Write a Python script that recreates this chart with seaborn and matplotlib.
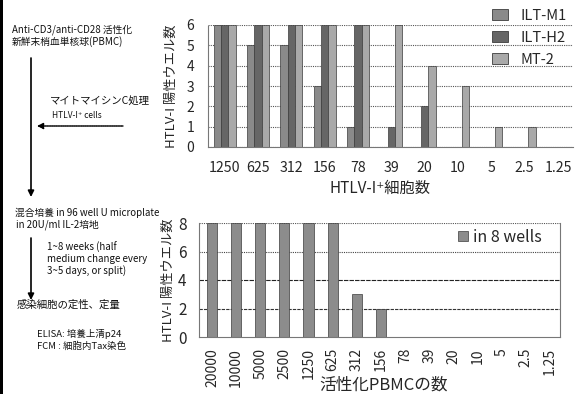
import matplotlib
matplotlib.use("Agg")
import matplotlib.pyplot as plt
from matplotlib.patches import Rectangle, Patch, FancyArrowPatch
import pandas as pd
import seaborn as sns

# ---- data ----
htlv_cells = ["1250", "625", "312", "156", "78", "39", "20", "10", "5", "2.5", "1.25"]
cell_lines = ["ILT-M1", "ILT-H2", "MT-2"]
ilt_m1 = [6, 5, 5, 3, 1, 0, 0, 0, 0, 0, 0]
ilt_h2 = [6, 6, 6, 6, 6, 1, 2, 0, 0, 0, 0]
mt_2 = [6, 6, 6, 6, 6, 6, 4, 3, 1, 1, 0]

pbmc_counts = ["20000", "10000", "5000", "2500", "1250", "625", "312", "156",
               "78", "39", "20", "10", "5", "2.5", "1.25"]
positive_wells = [8, 8, 8, 8, 8, 8, 3, 2, 0, 0, 0, 0, 0, 0, 0]

line_colors = ["#8a8a8a", "#666666", "#a9a9a9"]
pbmc_color = "#8c8c8c"

# ---- style ----
sns.set_theme(style="white")
plt.rcParams["font.family"] = ["Noto Sans CJK JP", "DejaVu Sans"]
plt.rcParams["axes.unicode_minus"] = False

W, H = 579, 394
fig = plt.figure(figsize=(W / 100, H / 100), dpi=100)


def fx(px):
    return px / W


def fy(py):
    return 1 - py / H


# ---- top panel: positive wells per HTLV-I+ cell number ----
df_top = pd.DataFrame({
    "cells": htlv_cells * 3,
    "line": [cell_lines[0]] * len(htlv_cells) + [cell_lines[1]] * len(htlv_cells)
            + [cell_lines[2]] * len(htlv_cells),
    "wells": ilt_m1 + ilt_h2 + mt_2,
})

ax1 = fig.add_axes([fx(208), fy(147), fx(573) - fx(208), fy(25) - fy(147)])
sns.barplot(data=df_top, x="cells", y="wells", hue="line", order=htlv_cells,
            hue_order=cell_lines, palette=line_colors, width=0.66, saturation=1,
            edgecolor="#3c3c3c", linewidth=0.5, ax=ax1)
ax1.legend_.remove()
ax1.set_xlim(-0.5, 10.45)
ax1.set_ylim(0, 6)
ax1.set_yticks(range(0, 7))
ax1.set_axisbelow(True)
ax1.yaxis.grid(True, linestyle=(0, (1, 1)), color="#555555", linewidth=0.8)
for s in ["top", "right"]:
    ax1.spines[s].set_visible(False)
for s in ["left", "bottom"]:
    ax1.spines[s].set_linestyle((0, (1, 1)))
    ax1.spines[s].set_color("#777777")
    ax1.spines[s].set_linewidth(0.8)
ax1.tick_params(axis="x", length=3, width=0.6, color="#777777", pad=7, labelsize=10.2)
ax1.tick_params(axis="y", length=0, pad=10, labelsize=10)
ax1.set_xlabel("HTLV-I⁺細胞数", fontsize=11)
ax1.xaxis.set_label_coords(0.47, -0.27)
ax1.set_ylabel("HTLV-I 陽性ウエル数", fontsize=9.5)
ax1.yaxis.set_label_coords(-0.082, 0.5)

handles = [Patch(facecolor=c, edgecolor="#3c3c3c", linewidth=0.6) for c in line_colors]
fig.legend(handles, cell_lines, loc="upper left", bbox_to_anchor=(fx(486), fy(3)),
           frameon=False, fontsize=10.5, handlelength=1.1, handleheight=0.8,
           labelspacing=0.55, handletextpad=0.9, borderaxespad=0)

# ---- bottom panel: positive wells per activated PBMC number ----
df_bot = pd.DataFrame({"pbmc": pbmc_counts, "wells": positive_wells})

ax2 = fig.add_axes([fx(199), fy(337), fx(560) - fx(199), fy(223) - fy(337)])
sns.barplot(data=df_bot, x="pbmc", y="wells", order=pbmc_counts, color=pbmc_color,
            width=0.42, saturation=1, edgecolor="#3c3c3c", linewidth=0.5, ax=ax2)
ax2.set_xlim(-0.54, 14.42)
ax2.set_ylim(0, 8)
ax2.set_yticks([0, 2, 4, 6, 8])
ax2.set_axisbelow(True)
for yv, ls, col in [(2, (0, (3, 1)), "#333333"), (4, (0, (4, 1)), "#222222"),
                    (6, (0, (1, 1)), "#444444"), (8, (0, (1, 1)), "#555555")]:
    ax2.axhline(yv, linestyle=ls, color=col, linewidth=0.8, zorder=0)
ax2.spines["top"].set_visible(False)
for s in ["left", "bottom", "right"]:
    ax2.spines[s].set_linestyle((0, (1, 1)))
    ax2.spines[s].set_color("#777777")
    ax2.spines[s].set_linewidth(0.8)
ax2.tick_params(axis="x", length=3, width=0.6, color="#777777", pad=5,
                labelsize=10, labelrotation=90)
ax2.tick_params(axis="y", length=0, pad=9, labelsize=11)
ax2.set_xlabel("活性化PBMCの数", fontsize=12)
ax2.xaxis.set_label_coords(0.51, -0.35)
ax2.set_ylabel("HTLV-I 陽性ウエル数", fontsize=9.5)
ax2.yaxis.set_label_coords(-0.068, 0.5)
ax2.legend([Patch(facecolor=pbmc_color, edgecolor="#3c3c3c", linewidth=0.5)],
           ["in 8 wells"], loc="center left", bbox_to_anchor=(fx(452), fy(237)),
           bbox_transform=fig.transFigure, frameon=False, fontsize=11.5,
           handlelength=0.6, handleheight=0.6, handletextpad=0.3, borderaxespad=0)

# ---- protocol outline on the left ----
fig.add_artist(Rectangle((0, 0), fx(3), 1, transform=fig.transFigure,
                         facecolor="black", edgecolor="none"))

texts = [
    (12, 30, "Anti-CD3/anti-CD28 活性化", 7),
    (12, 42, "新鮮末梢血単核球(PBMC)", 7),
    (50, 102, "マイトマイシンC処理", 7.5),
    (52, 115, "HTLV-I⁺ cells", 6),
    (15, 213, "混合培養 in 96 well U microplate", 7),
    (16, 225, "in 20U/ml IL-2培地", 7),
    (47, 247, "1~8 weeks (half", 7),
    (47, 259, "medium change every", 7),
    (47, 271, "3~5 days, or split)", 7),
    (17, 305, "感染細胞の定性、定量", 7.5),
    (37, 334, "ELISA: 培養上清p24", 6.8),
    (37, 346, "FCM : 細胞内Tax染色", 6.8),
]
for x, y, s, size in texts:
    fig.text(fx(x), fy(y), s, ha="left", va="center", fontsize=size, color="#111111")

arrow = dict(arrowstyle="-|>", color="black", lw=1.2, mutation_scale=9,
             shrinkA=0, shrinkB=0)
fig.add_artist(FancyArrowPatch((fx(31), fy(58)), (fx(31), fy(197)),
                               transform=fig.transFigure, **arrow))
fig.add_artist(FancyArrowPatch((fx(31), fy(238)), (fx(31), fy(300)),
                               transform=fig.transFigure, **arrow))
fig.add_artist(FancyArrowPatch((fx(123), fy(126)), (fx(37), fy(126)),
                               transform=fig.transFigure, arrowstyle="-|>",
                               color="black", lw=1.0, mutation_scale=9,
                               linestyle=(0, (1, 0.6)), shrinkA=0, shrinkB=0))

fig.savefig("out.png", dpi=100)
